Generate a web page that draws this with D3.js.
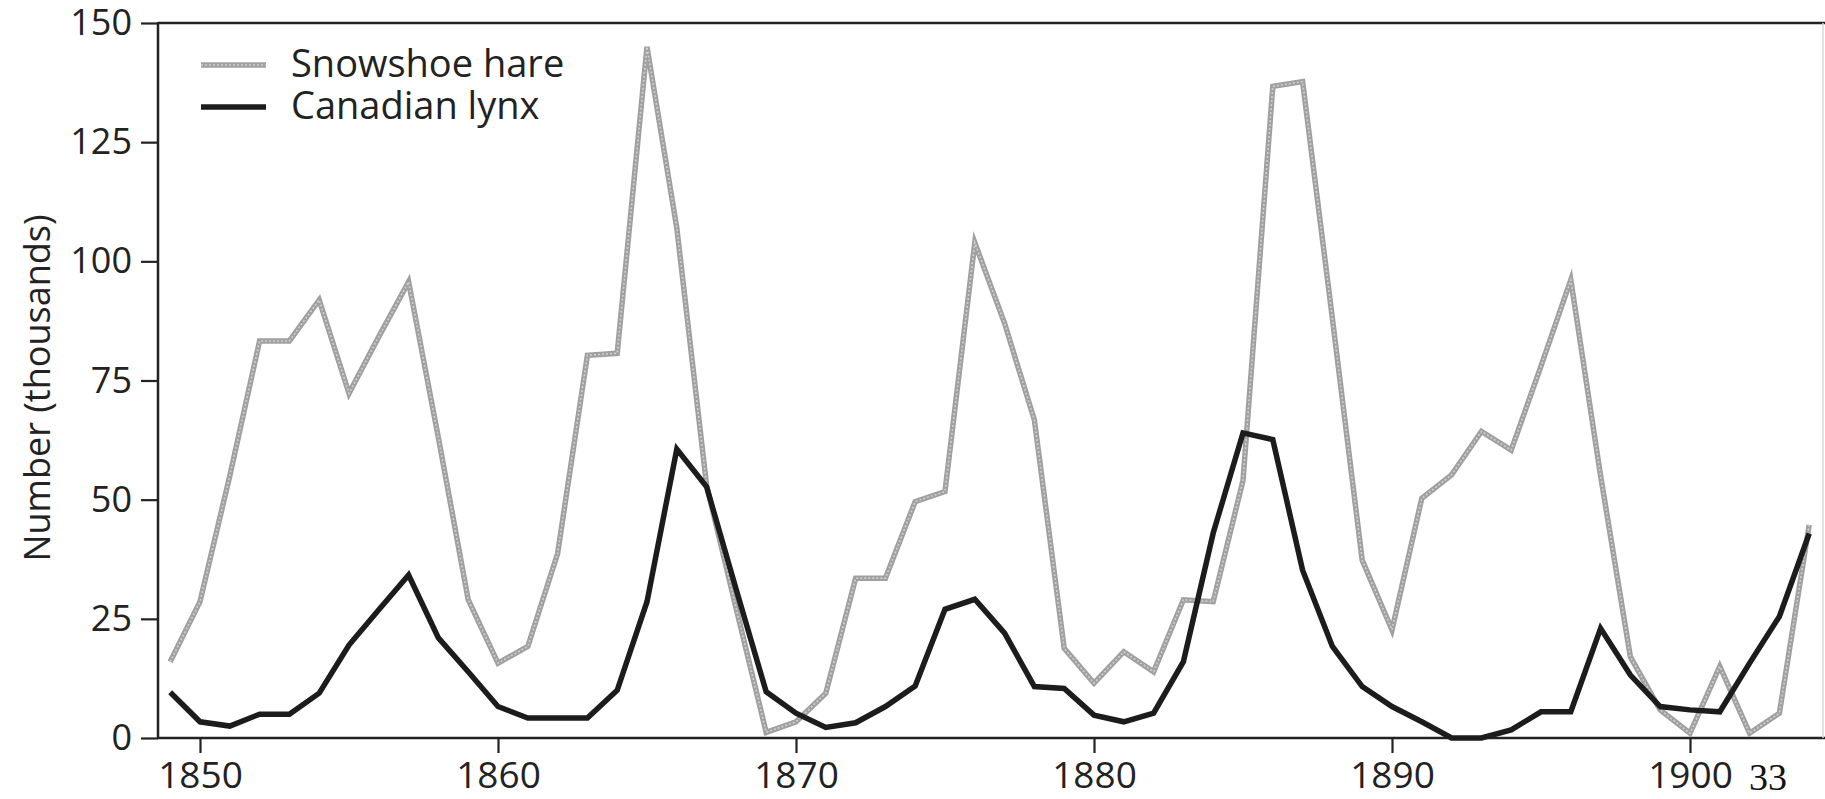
<!DOCTYPE html>
<html>
<head>
<meta charset="utf-8">
<script src="https://cdn.jsdelivr.net/npm/d3@7/dist/d3.min.js"></script>
<style>
  html, body { margin: 0; padding: 0; background: #ffffff; }
  svg { display: block; }
</style>
</head>
<body>
<svg id="chart" width="1825" height="799"></svg>
<script>
// ---- data ----
const years = [1849,1850,1851,1852,1853,1854,1855,1856,1857,1858,1859,
  1860,1861,1862,1863,1864,1865,1866,1867,1868,1869,
  1870,1871,1872,1873,1874,1875,1876,1877,1878,1879,
  1880,1881,1882,1883,1884,1885,1886,1887,1888,1889,
  1890,1891,1892,1893,1894,1895,1896,1897,1898,1899,
  1900,1901,1902,1903,1904];
const hare = [16.0,28.6,55,83.3,83.3,91.9,72.3,84.2,95.7,63,29,
  15.7,19.2,38.7,80.3,80.7,145,107,53,27,1.2,
  3.4,9.4,33.5,33.5,49.6,51.7,103.9,87,66.7,18.8,
  11.5,18.1,13.9,29,28.6,54,136.7,137.7,88,37.3,
  22.7,50.3,55.2,64.3,60.4,78,96.1,55,17,5.9,
  1.0,15,1.0,5.2,44.7];
const lynx = [9.6,3.4,2.5,5.0,5.0,9.4,19.5,26.9,34.2,21,13.9,
  6.6,4.2,4.2,4.2,10,28.6,60.6,52.7,31,9.7,
  5.2,2.2,3.2,6.6,10.9,27,29.1,22,10.8,10.4,
  4.8,3.4,5.2,16,43,64,62.6,35.2,19.2,10.8,
  6.6,3.4,0,0,1.7,5.5,5.5,23,13.2,6.6,
  5.9,5.5,15.7,25.5,42.9];
const seriesNames = ["Snowshoe hare", "Canadian lynx"];
const xTicks = [1850, 1860, 1870, 1880, 1890, 1900];
const yTicks = [0, 25, 50, 75, 100, 125, 150];
const yTitle = "Number (thousands)";
const pageNumber = "33";

(function () {
  // ---- layout ----
  const W = 1825, H = 799;
  const mLeft = 158, mTop = 23, mBottom = 738, mRight = 1823;
  const svg = d3.select("#chart");
  svg.append("rect").attr("width", W).attr("height", H).attr("fill", "#fff");

  const x = d3.scaleLinear().domain([1850, 1900]).range([200, 1690]);
  const y = d3.scaleLinear().domain([0, 150]).range([mBottom, mTop]);

  const font = "'Open Sans', 'Noto Sans', sans-serif";
  const ink = "#222";

  // frame lines
  svg.append("line").attr("x1", mLeft).attr("x2", mLeft).attr("y1", mTop - 1).attr("y2", mBottom + 1)
    .attr("stroke", ink).attr("stroke-width", 2.5);
  svg.append("line").attr("x1", mLeft).attr("x2", W).attr("y1", mBottom).attr("y2", mBottom)
    .attr("stroke", ink).attr("stroke-width", 2.5);
  svg.append("line").attr("x1", mLeft).attr("x2", W).attr("y1", mTop).attr("y2", mTop)
    .attr("stroke", ink).attr("stroke-width", 2.5);
  svg.append("line").attr("x1", mRight).attr("x2", mRight).attr("y1", mTop).attr("y2", mBottom)
    .attr("stroke", "#d8d8d8").attr("stroke-width", 1.5);

  // y axis ticks + labels
  const yAxis = d3.axisLeft(y).tickValues(yTicks).tickSize(17).tickSizeOuter(0).tickPadding(9)
    .tickFormat(d3.format("d"));
  const gy = svg.append("g").attr("transform", `translate(${mLeft},0)`).call(yAxis);
  gy.select(".domain").remove();
  gy.selectAll(".tick line").attr("stroke", ink).attr("stroke-width", 2.2);
  gy.selectAll(".tick text").attr("fill", ink).style("font-family", font).style("font-size", "36px");

  // x axis ticks + labels
  const xAxis = d3.axisBottom(x).tickValues(xTicks).tickSize(15).tickSizeOuter(0).tickPadding(9)
    .tickFormat(d3.format("d"));
  const gx = svg.append("g").attr("transform", `translate(0,${mBottom})`).call(xAxis);
  gx.select(".domain").remove();
  gx.selectAll(".tick line").attr("stroke", ink).attr("stroke-width", 2.2);
  gx.selectAll(".tick text").attr("fill", ink).style("font-family", font).style("font-size", "37px");

  // page number next to the last tick label
  svg.append("text").attr("x", 1749).attr("y", 790).text(pageNumber)
    .attr("fill", "#111").style("font-family", "'Liberation Serif', 'DejaVu Serif', serif")
    .style("font-size", "38px");

  // y title
  svg.append("text").attr("transform", `translate(50,388) rotate(-90)`)
    .attr("text-anchor", "middle").attr("fill", ink)
    .style("font-family", font).style("font-size", "36px").text(yTitle);

  // lines
  const line = (vals) => d3.line().x((d, i) => x(years[i])).y(d => y(d))(vals);

  function hareStroke(sel) {
    sel.attr("fill", "none").attr("stroke", "#a0a0a0").attr("stroke-width", 5.5)
      .attr("stroke-linejoin", "miter").attr("stroke-miterlimit", 6);
  }
  function hareInner(sel) {
    sel.attr("fill", "none").attr("stroke", "#d0d0d0").attr("stroke-width", 1.6)
      .attr("stroke-dasharray", "2 2").attr("stroke-linejoin", "miter").attr("stroke-miterlimit", 6);
  }
  function lynxStroke(sel) {
    sel.attr("fill", "none").attr("stroke", "#1c1c1c").attr("stroke-width", 5.5)
      .attr("stroke-linejoin", "miter").attr("stroke-miterlimit", 4);
  }

  svg.append("path").attr("d", line(hare)).call(hareStroke);
  svg.append("path").attr("d", line(hare)).call(hareInner);
  svg.append("path").attr("d", line(lynx)).call(lynxStroke);

  // legend
  const lg = svg.append("g");
  const legendRows = [{ y: 65, name: seriesNames[0], kind: "hare" }, { y: 107, name: seriesNames[1], kind: "lynx" }];
  legendRows.forEach(r => {
    const p = `M201,${r.y}H266`;
    if (r.kind === "hare") {
      lg.append("path").attr("d", p).call(hareStroke);
      lg.append("path").attr("d", p).call(hareInner);
    } else {
      lg.append("path").attr("d", p).call(lynxStroke);
    }
    lg.append("text").attr("x", 291).attr("y", r.y + 12).text(r.name)
      .attr("fill", ink).style("font-family", font).style("font-size", "38px");
  });
})();
</script>
</body>
</html>
